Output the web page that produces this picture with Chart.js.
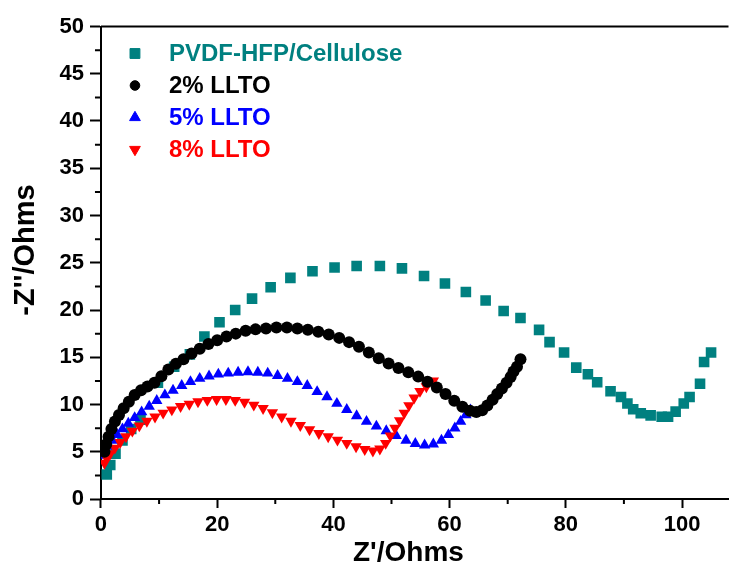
<!DOCTYPE html>
<html>
<head>
<meta charset="utf-8">
<script src="https://cdn.jsdelivr.net/npm/chart.js@4.4.1/dist/chart.umd.min.js"></script>
<style>
  html, body { margin: 0; padding: 0; background: #fff; overflow: hidden; }
  #wrap { width: 729px; height: 573px; overflow: hidden; }
</style>
</head>
<body>
<div id="wrap"><canvas id="myChart" width="736" height="573"></canvas></div>
<script>
// impedance data (Z' , -Z'')
var pvdfX = [1.0,1.6,2.5,3.7,5.2,6.8,9.8,12.6,15.3,17.8,20.4,23.1,26.0,29.2,32.6,36.4,40.2,44.0,48.0,51.8,55.6,59.2,62.8,66.2,69.3,72.2,75.4,77.2,79.7,81.8,83.8,85.4,87.7,89.5,90.6,91.6,92.9,94.6,96.5,97.6,98.9,100.3,101.3,103.1,103.8,105.0];
var pvdfY = [2.6,3.6,4.8,6.2,7.4,8.4,12.3,14.0,15.3,17.2,18.7,20.0,21.2,22.4,23.4,24.1,24.5,24.65,24.65,24.4,23.6,22.8,21.9,21.0,19.9,19.15,17.9,16.6,15.5,13.9,13.2,12.35,11.4,10.8,10.1,9.5,9.07,8.85,8.7,8.7,9.25,10.1,10.8,12.2,14.5,15.5];

var llto2X = [0.6,0.9,1.3,1.8,2.4,3.1,3.9,4.8,5.8,6.9,8.0,9.2,10.4,11.6,12.9,14.2,15.6,17.0,18.5,20.0,21.6,23.2,24.9,26.6,28.4,30.2,32.0,33.8,35.6,37.4,39.2,41.0,42.7,44.4,46.1,47.8,49.5,51.2,52.9,54.6,56.2,57.8,59.3,60.8,62.2,63.5,64.6,65.6,66.5,67.4,68.2,69.0,69.8,70.5,71.0,71.6,72.2];
var llto2Y = [5.0,5.8,6.6,7.4,8.2,8.9,9.6,10.3,11.0,11.5,11.9,12.3,13.0,13.7,14.3,14.8,15.4,15.9,16.4,16.8,17.2,17.5,17.8,17.95,18.05,18.15,18.15,18.05,17.9,17.7,17.4,17.05,16.6,16.1,15.5,14.9,14.35,13.85,13.4,12.95,12.4,11.8,11.1,10.4,9.75,9.35,9.2,9.4,9.9,10.5,11.1,11.7,12.3,12.9,13.5,14.0,14.8];

var llto5X = [0.4,0.8,1.3,2.0,2.8,3.7,4.7,5.8,7.0,8.3,9.6,11.0,12.4,13.9,15.4,17.0,18.6,20.2,21.9,23.6,25.3,27.0,28.7,30.4,32.1,33.8,35.5,37.2,38.9,40.6,42.3,44.0,45.7,47.4,49.1,50.8,52.5,54.1,55.7,57.2,58.6,59.8,60.9,61.9,62.8,63.6];
var llto5Y = [4.6,5.1,5.6,6.2,6.8,7.4,8.0,8.6,9.2,9.8,10.4,11.0,11.5,12.0,12.4,12.75,13.0,13.2,13.3,13.4,13.45,13.4,13.3,13.05,12.75,12.4,12.0,11.35,10.8,10.1,9.45,8.8,8.2,7.7,7.2,6.7,6.2,5.85,5.7,5.8,6.2,6.8,7.5,8.2,8.9,9.4];

var llto8X = [0.6,1.0,1.6,2.4,3.3,4.3,5.4,6.6,7.9,9.3,10.7,12.2,13.7,15.2,16.7,18.3,19.9,21.5,23.1,24.7,26.3,27.9,29.5,31.1,32.7,34.3,35.9,37.5,39.1,40.7,42.3,43.9,45.4,46.8,48.0,49.0,49.8,50.6,51.4,52.2,53.0,53.9,54.9,56.0,57.2];
var llto8Y = [3.8,4.3,4.8,5.4,6.0,6.6,7.2,7.75,8.25,8.7,9.1,9.45,9.8,10.05,10.3,10.45,10.55,10.55,10.45,10.25,9.95,9.6,9.15,8.7,8.25,7.8,7.35,6.95,6.6,6.25,5.9,5.55,5.25,5.1,5.3,5.9,6.7,7.5,8.3,9.1,9.9,10.7,11.4,11.9,12.5];

var seriesNames = ['PVDF-HFP/Cellulose', '2% LLTO', '5% LLTO', '8% LLTO'];
var seriesColors = ['#008080', '#000000', '#0000FF', '#FF0000'];

var xTickStep = 20;
var yTickStep = 5;

function toPoints(xs, ys) {
  return xs.map(function (x, i) { return {x: x, y: ys[i]}; });
}

var fontFamily = '"Liberation Sans", Arial, sans-serif';

// minor ticks, top frame line and both axis titles
var frameTicks = {
  id: 'frameTicks',
  afterDraw: function (chart) {
    var ctx = chart.ctx, area = chart.chartArea;
    var xs = chart.scales.x, ys = chart.scales.y;
    ctx.save();
    ctx.strokeStyle = '#000';
    ctx.lineWidth = 2;
    ctx.beginPath();
    for (var v = xTickStep / 2; v < xs.max; v += xTickStep) {
      var px = xs.getPixelForValue(v);
      ctx.moveTo(px, area.bottom);
      ctx.lineTo(px, area.bottom + 5);
    }
    for (var w = yTickStep / 2; w < ys.max; w += yTickStep) {
      var py = ys.getPixelForValue(w);
      ctx.moveTo(area.left - 6, py);
      ctx.lineTo(area.left, py);
    }
    ctx.moveTo(area.left, area.top);
    ctx.lineTo(area.right, area.top);
    ctx.stroke();

    ctx.fillStyle = '#000';
    ctx.textAlign = 'center';
    ctx.textBaseline = 'middle';
    ctx.font = 'bold 28px ' + fontFamily;
    ctx.fillText("Z'/Ohms", area.left + (area.right - area.left) * 0.49, area.bottom + 54);

    // y title sits a bit above the middle like the original
    ctx.translate(area.left - 75, area.top + (area.bottom - area.top) * 0.473);
    ctx.rotate(-Math.PI / 2);
    ctx.font = 'bold 29px ' + fontFamily;
    ctx.fillText("-Z''/Ohms", 0, 0);
    ctx.restore();
  }
};

// legend drawn inside the plot, top-left
var insideLegend = {
  id: 'insideLegend',
  afterDraw: function (chart) {
    var ctx = chart.ctx, area = chart.chartArea;
    var sizes = [7, 4.8, 6.2, 6.2];
    ctx.save();
    chart.data.datasets.forEach(function (ds, i) {
      var y = area.top + 27 + i * 32;
      ctx.fillStyle = ds.backgroundColor;
      ctx.strokeStyle = ds.borderColor;
      Chart.helpers.drawPoint(ctx, {
        pointStyle: ds.pointStyle,
        rotation: ds.pointRotation || 0,
        radius: sizes[i],
        borderWidth: 1
      }, area.left + 34, y);
      ctx.font = 'bold 24px ' + fontFamily;
      ctx.textBaseline = 'middle';
      ctx.textAlign = 'left';
      ctx.fillStyle = ds.borderColor;
      ctx.fillText(ds.label, area.left + 68, y + 1);
    });
    ctx.restore();
  }
};

var myChart = new Chart(document.getElementById('myChart'), {
  type: 'scatter',
  data: {
    datasets: [
      {
        label: seriesNames[0],
        data: toPoints(pvdfX, pvdfY),
        pointStyle: 'rect',
        pointRadius: 7.5,
        backgroundColor: seriesColors[0],
        borderColor: seriesColors[0],
        borderWidth: 0,
        order: 3
      },
      {
        label: seriesNames[1],
        data: toPoints(llto2X, llto2Y),
        pointStyle: 'circle',
        pointRadius: 6,
        backgroundColor: seriesColors[1],
        borderColor: seriesColors[1],
        borderWidth: 0,
        order: 0
      },
      {
        label: seriesNames[2],
        data: toPoints(llto5X, llto5Y),
        pointStyle: 'triangle',
        pointRadius: 6.6,
        backgroundColor: seriesColors[2],
        borderColor: seriesColors[2],
        borderWidth: 0,
        order: 2
      },
      {
        label: seriesNames[3],
        data: toPoints(llto8X, llto8Y),
        pointStyle: 'triangle',
        pointRotation: 180,
        pointRadius: 6.6,
        backgroundColor: seriesColors[3],
        borderColor: seriesColors[3],
        borderWidth: 0,
        order: 1
      }
    ]
  },
  options: {
    responsive: false,
    animation: false,
    devicePixelRatio: 1,
    layout: {
      padding: {top: 26.5, left: 53.5, right: 0, bottom: 31}
    },
    plugins: {
      legend: {display: false},
      tooltip: {enabled: false}
    },
    scales: {
      x: {
        type: 'linear',
        min: 0,
        max: 108,
        border: {display: true, color: '#000', width: 2},
        grid: {drawOnChartArea: false, drawTicks: true, tickLength: 9, tickColor: '#000', tickWidth: 2},
        ticks: {
          stepSize: xTickStep,
          includeBounds: false,
          color: '#000',
          padding: 6,
          maxRotation: 0,
          font: {family: fontFamily, size: 22, weight: 'bold', lineHeight: 1}
        },
        title: {display: false}
      },
      y: {
        type: 'linear',
        min: 0,
        max: 50,
        border: {display: true, color: '#000', width: 2},
        grid: {drawOnChartArea: false, drawTicks: true, tickLength: 11, tickColor: '#000', tickWidth: 2},
        ticks: {
          stepSize: yTickStep,
          color: '#000',
          padding: 6,
          font: {family: fontFamily, size: 22, weight: 'bold'}
        },
        title: {display: false}
      }
    }
  },
  plugins: [frameTicks, insideLegend]
});
</script>
</body>
</html>
